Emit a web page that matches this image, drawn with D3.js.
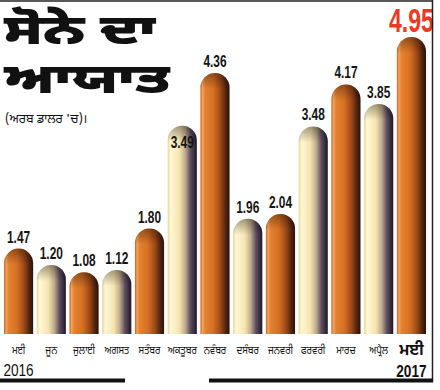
<!DOCTYPE html>
<html><head><meta charset="utf-8">
<script src="https://cdn.jsdelivr.net/npm/d3@7"></script>
<style>
html,body{margin:0;padding:0;background:#fff;}
svg{display:block;}
</style></head>
<body>
<script>
const months = ["ਮਈ","ਜੂਨ","ਜੁਲਾਈ","ਅਗਸਤ","ਸਤੰਬਰ","ਅਕਤੂਬਰ","ਨਵੰਬਰ","ਦਸੰਬਰ","ਜਨਵਰੀ","ਫਰਵਰੀ","ਮਾਰਚ","ਅਪ੍ਰੈਲ","ਮਈ"];
const years = ["2016","","","","","","","","","","","","2017"];
const values = [1.47,1.20,1.08,1.12,1.80,3.49,4.36,1.96,2.04,3.48,4.17,3.85,4.95];
const valueLabels = ["1.47","1.20","1.08","1.12","1.80","3.49","4.36","1.96","2.04","3.48","4.17","3.85","4.95"];
const titleLines = ["ਸੋਨੇ ਦਾ","ਆਯਾਤ"];
const subtitle = "(ਅਰਬ ਡਾਲਰ 'ਚ)।";

const W = 440, H = 390;
const svg = d3.select("body").append("svg").attr("width", W).attr("height", H);
const defs = svg.append("defs");

function grad(id, stops){
  const g = defs.append("linearGradient").attr("id", id).attr("x1","0").attr("x2","1").attr("y1","0").attr("y2","0");
  stops.forEach(s => g.append("stop").attr("offset", s[0]).attr("stop-color", s[1]));
}
grad("gOrange", [[0,"#c2621e"],[0.07,"#f3a262"],[0.16,"#e4822f"],[0.45,"#d66f24"],[0.7,"#9a4716"],[0.88,"#4e2210"],[1,"#2c1208"]]);
grad("gCream", [[0,"#e8d49a"],[0.1,"#fff8d6"],[0.4,"#f6e4ae"],[0.6,"#c0ac8e"],[0.78,"#5e4e60"],[1,"#1e1628"]]);
const vg = defs.append("linearGradient").attr("id","gCap").attr("x1","0").attr("x2","0").attr("y1","0").attr("y2","1");
vg.append("stop").attr("offset",0).attr("stop-color","#000").attr("stop-opacity",0.35);
vg.append("stop").attr("offset",1).attr("stop-color","#000").attr("stop-opacity",0);

const x = d3.scaleBand().domain(d3.range(values.length)).range([4, 426]).paddingInner(0.11).paddingOuter(0);
const y = d3.scaleLinear().domain([0, 4.95]).range([338, 37]);
const baseY = 334;

function pillPath(x0, w, top, bottom){
  const r = w/2;
  return `M${x0},${bottom}L${x0},${top+r}A${r},${r} 0 0 1 ${x0+w},${top+r}L${x0+w},${bottom}Z`;
}

const bars = svg.append("g");
values.forEach((v,i)=>{
  const x0 = x(i), w = x.bandwidth(), top = y(v);
  bars.append("path").attr("d", pillPath(x0,w,top,baseY))
    .attr("fill", i%2===0 ? "url(#gOrange)" : "url(#gCream)");
  bars.append("path").attr("d", pillPath(x0,w,top,top+w*0.55))
    .attr("fill","url(#gCap)");
});

// value labels
const lab = svg.append("g").attr("font-family","'Liberation Sans Narrow','Liberation Sans',sans-serif").attr("font-weight","bold");
values.forEach((v,i)=>{
  const cx = x(i)+x.bandwidth()/2;
  const last = i===values.length-1;
  let ly = y(v) - 6;
  if (i===5) ly = y(v) + 22;
  const fs = last ? 33 : 17;
  lab.append("text")
    .attr("transform", `translate(${cx},${last? y(v)-5 : ly}) scale(0.7,1)`)
    .attr("text-anchor","middle")
    .attr("font-size", fs)
    .attr("fill", last ? "#ec3a22" : "#141414")
    .text(valueLabels[i]);
});

// month labels
const gfont = "'Noto Sans Gurmukhi','Lohit Gurmukhi','Noto Sans','DejaVu Sans',sans-serif";
const ml = svg.append("g").attr("font-family",gfont);
months.forEach((m,i)=>{
  const cx = x(i)+x.bandwidth()/2;
  const last = i===months.length-1;
  ml.append("text").attr("transform",`translate(${cx},${last?355:354}) scale(${last?1:0.9},1)`).attr("text-anchor","middle")
    .attr("font-size", last?16:10.5).attr("font-weight", last?"bold":"normal").attr("fill","#111").text(m);
  if (years[i]) {
    ml.append("text").attr("transform",`translate(${cx},${last?377:376}) scale(0.85,1)`).attr("text-anchor","middle")
      .attr("font-family","'Liberation Sans Narrow','Liberation Sans',sans-serif")
      .attr("font-size", 16).attr("font-weight", last?"bold":"normal").attr("fill","#111").text(years[i]);
  }
});

// title (single text block, two lines)
const tt = svg.append("text").attr("transform","translate(4,44) scale(1.38,1)")
  .attr("font-family",gfont).attr("font-weight","900").attr("font-size",42).attr("fill","#111");
titleLines.forEach((t,i)=>{
  tt.append("tspan").attr("x",0).attr("y", i*49).text(t);
});
svg.append("text").attr("x",5).attr("y",123).attr("font-size",12.5)
  .attr("font-family",gfont).attr("fill","#111").text(subtitle);

// frame lines
svg.append("line").attr("x1",0).attr("x2",433).attr("y1",1).attr("y2",1).attr("stroke","#222").attr("stroke-width",1.5);
svg.append("line").attr("x1",432.5).attr("x2",432.5).attr("y1",0).attr("y2",382).attr("stroke","#222").attr("stroke-width",1.5);
svg.append("line").attr("x1",0).attr("x2",125).attr("y1",380.5).attr("y2",380.5).attr("stroke","#111").attr("stroke-width",4);
svg.append("line").attr("x1",209).attr("x2",433).attr("y1",380.5).attr("y2",380.5).attr("stroke","#111").attr("stroke-width",4);
</script>
</body></html>
